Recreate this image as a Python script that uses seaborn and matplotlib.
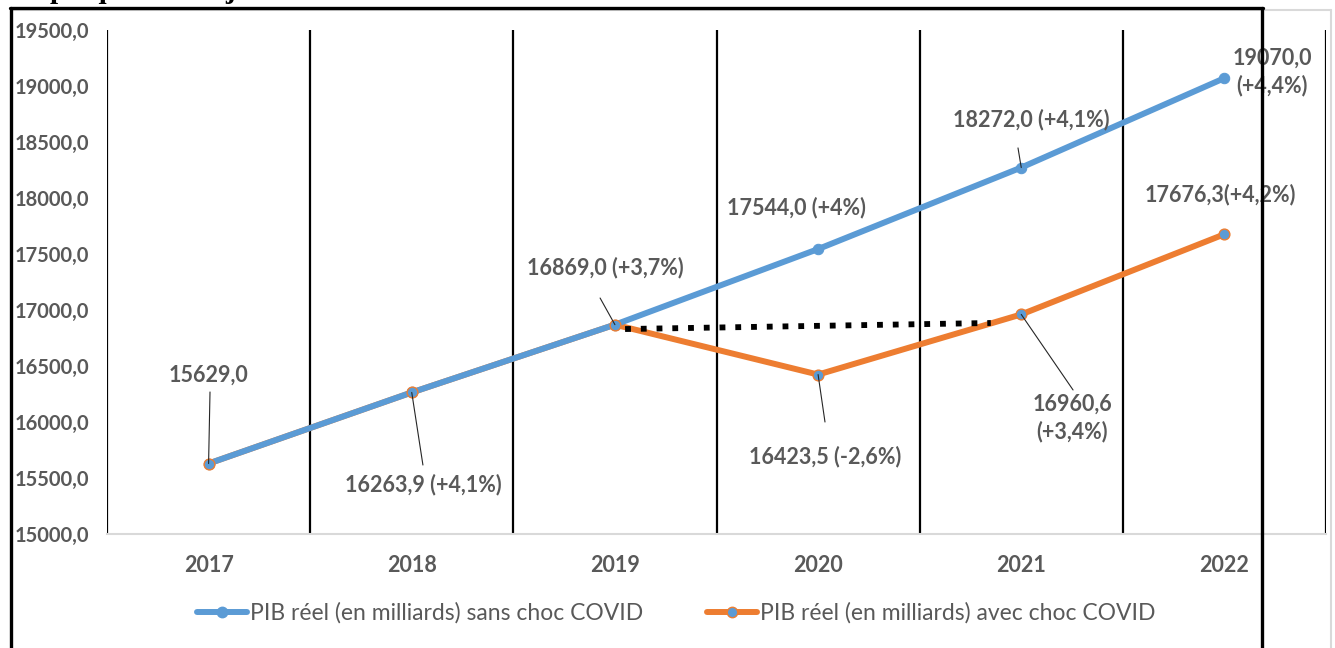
import matplotlib
matplotlib.use("Agg")
import matplotlib.pyplot as plt
import seaborn as sns
import pandas as pd
from matplotlib.lines import Line2D

# ---------------- data ----------------
years = ["2017", "2018", "2019", "2020", "2021", "2022"]
pib_sans_covid = [15629.0, 16263.9, 16869.0, 17544.0, 18272.0, 19070.0]
pib_avec_covid = [15629.0, 16263.9, 16869.0, 16423.5, 16960.6, 17676.3]
label_sans = ["15629,0", "16263,9 (+4,1%)", "16869,0 (+3,7%)", "17544,0 (+4%)",
              "18272,0 (+4,1%)", "19070,0\n(+4,4%)"]
label_avec = ["16423,5 (-2,6%)", "16960,6\n(+3,4%)", "17676,3(+4,2%)"]
serie_sans = "PIB réel (en milliards) sans choc COVID"
serie_avec = "PIB réel (en milliards) avec choc COVID"
yticks = [15000, 15500, 16000, 16500, 17000, 17500, 18000, 18500, 19000, 19500]
title = "Graphique 3 : Trajectoires du PIB avec et sans la crise du COVID-19"
# dotted "recovery" connector (x in category units, y in value units)
dotted_x = [2.05, 3.85]
dotted_y = [16830, 16884]

# ---------------- style ----------------
sns.set_theme(style="white")
plt.rcParams["font.family"] = ["Lato", "DejaVu Sans"]
BLUE = "#5B9BD5"
ORANGE = "#ED7D31"
GREY = "#595959"

fig = plt.figure(figsize=(13.35, 6.48), dpi=100)
W, H = 1335, 648
ax = fig.add_axes([107 / W, (H - 534) / H, (1326 - 107) / W, (534 - 30) / H])

pos = list(range(len(years)))
df = pd.DataFrame({"pos": pos, "year": years,
                   "sans": pib_sans_covid, "avec": pib_avec_covid})

# orange line (beneath)
sns.lineplot(data=df, x="pos", y="avec", ax=ax, color=ORANGE, lw=4.3,
             sort=False, zorder=3, legend=False)
# blue line with markers
sns.lineplot(data=df, x="pos", y="sans", ax=ax, color=BLUE, lw=4.3,
             marker="o", markersize=7.5, markeredgecolor=BLUE,
             sort=False, zorder=4, legend=False)
# orange series markers (blue face, orange edge)
sns.scatterplot(data=df, x="pos", y="avec", ax=ax, color=BLUE, s=60,
                edgecolor=ORANGE, linewidth=1.0, zorder=5, legend=False)

# dotted connector
ax.plot(dotted_x, dotted_y, color="black", lw=4.2, linestyle=(0, (1.0, 1.7)),
        dash_capstyle="butt", zorder=6)

# axes
ax.set_xlim(-0.5, len(years) - 0.5)
ax.set_ylim(yticks[0], yticks[-1])
ax.set_yticks(yticks)
ax.set_yticklabels([f"{v:.1f}".replace(".", ",") for v in yticks])
ax.set_xticks(pos)
ax.set_xticklabels(years)
ax.set_xlabel("")
ax.set_ylabel("")
for sp in ["top", "right", "left"]:
    ax.spines[sp].set_visible(False)
ax.spines["bottom"].set_color("#D9D9D9")
ax.spines["bottom"].set_linewidth(1.5)
for b in [p - 0.5 for p in pos] + [len(years) - 0.5]:
    ax.axvline(b, color="black", lw=1.6, zorder=2)
ax.tick_params(axis="both", length=0, colors=GREY)
for t in ax.get_yticklabels():
    t.set_fontweight("bold"); t.set_fontsize(14.5); t.set_color(GREY)
ax.tick_params(axis="y", pad=13)
for t in ax.get_xticklabels():
    t.set_fontweight("bold"); t.set_fontsize(15.5); t.set_color(GREY)
ax.tick_params(axis="x", pad=15)

# data labels (layout positions)
lab_kw = dict(fontsize=15.5, fontweight="bold", color=GREY, ha="center",
              va="center", zorder=7, linespacing=1.3)
sans_pos = [(0.0, 16420), (1.055, 15446), (1.951, 17375), (2.891, 17911),
            (4.048, 18697), (5.234, 19125)]
avec_pos = [(3.034, 15688), (4.25, 16036), (4.978, 18027)]
for (lx, ly), txt in zip(sans_pos, label_sans):
    ax.text(lx, ly, txt, **lab_kw)
for (lx, ly), txt in zip(avec_pos, label_avec):
    ax.text(lx, ly, txt, **lab_kw)

# leader lines (label end -> point)
leaders = [((0.007, 16268), (0, pib_sans_covid[0])),
           ((1.055, 15616), (1, pib_sans_covid[1])),
           ((1.927, 17107), (2, pib_sans_covid[2])),
           ((3.984, 18447), (4, pib_sans_covid[4])),
           ((3.034, 16000), (3, pib_avec_covid[3])),
           ((4.255, 16286), (4, pib_avec_covid[4]))]
for (x0, y0), (x1, y1) in leaders:
    ax.plot([x0, x1], [y0, y1], color="#262626", lw=0.8, zorder=6)

# legend
handles = [Line2D([], [], color=BLUE, lw=4.3, marker="o", markersize=7.5,
                  markerfacecolor=BLUE, markeredgecolor=BLUE),
           Line2D([], [], color=ORANGE, lw=4.3, marker="o", markersize=7.5,
                  markerfacecolor=BLUE, markeredgecolor=ORANGE)]
leg = fig.legend(handles, [serie_sans, serie_avec], loc="center",
                 bbox_to_anchor=(676 / W, 35 / H), ncol=2, frameon=False,
                 fontsize=16.5, handlelength=2.2, handletextpad=0.1,
                 columnspacing=2.8)
for t in leg.get_texts():
    t.set_color(GREY)

# chart-area grey border and black table frame
fig.add_artist(Line2D([12 / W, 1331 / W], [(H - 10) / H] * 2,
                      color="#D9D9D9", lw=1.5, transform=fig.transFigure))
fig.add_artist(Line2D([1331 / W] * 2, [0, (H - 10) / H],
                      color="#D9D9D9", lw=1.5, transform=fig.transFigure))
fig.add_artist(Line2D([10 / W, 1263 / W], [(H - 8) / H] * 2,
                      color="black", lw=2.4, transform=fig.transFigure))
fig.add_artist(Line2D([11 / W] * 2, [0, (H - 8) / H],
                      color="black", lw=2.4, transform=fig.transFigure))
fig.add_artist(Line2D([1262 / W] * 2, [0, (H - 8) / H],
                      color="black", lw=2.4, transform=fig.transFigure))

# cropped caption at very top (only its lower edge is visible, as in source)
fig.text(0.0, 1 + 2.5 / H, title, fontsize=21, fontweight="bold",
         family=["Liberation Serif", "DejaVu Serif"], color="black",
         ha="left", va="baseline")

fig.savefig("out.png", dpi=100)
